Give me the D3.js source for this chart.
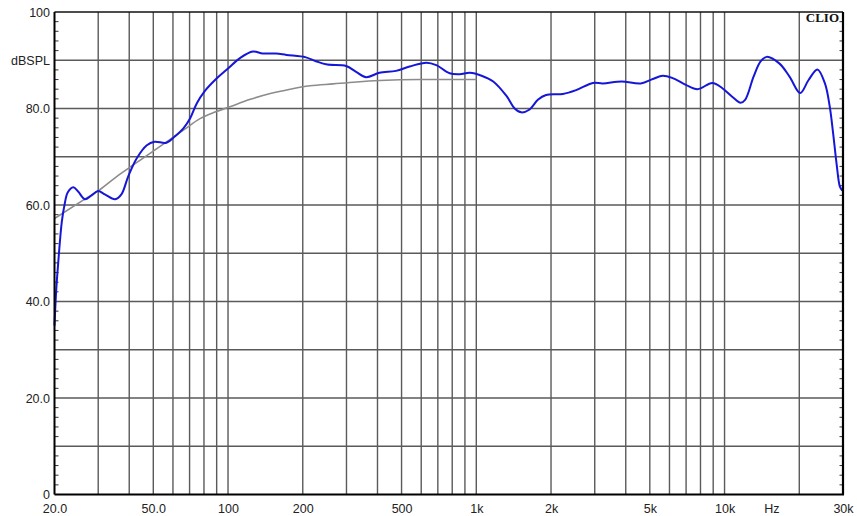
<!DOCTYPE html>
<html><head><meta charset="utf-8">
<script src="https://cdn.jsdelivr.net/npm/d3@7"></script>
<style>body{margin:0;background:#fff}svg{display:block}</style>
</head><body><svg id="c" width="857" height="516"></svg>
<script>
// ---- data ----
const blueFreq=[20.0,20.3,20.7,21.4,22.0,22.6,23.8,24.9,26.5,28.2,30.0,31.9,35.1,37.2,39.6,42.9,47.1,50.6,56.5,61.0,66.1,70.4,74.9,80.3,89.9,100,112,126,138,156,172,206,226,251,299,328,360,407,475,539,630,690,781,858,942,1050,1170,1323,1428,1518,1640,1770,1910,2232,2524,2950,3235,3850,4600,5140,5636,6181,6983,7790,8929,9800,10760,11600,12100,13090,13950,14770,16650,18270,20170,21800,23660,25370,26530,27370,28260,29150,29800];
const blueDb=[35.0,42.0,48.0,56.5,60.3,62.6,63.7,62.8,61.2,62.0,62.9,62.2,61.2,62.2,65.9,69.7,72.4,73.1,72.9,74.2,75.9,78.0,81.1,83.5,86.2,88.3,90.5,91.8,91.4,91.4,91.1,90.6,89.8,89.1,88.8,87.6,86.5,87.4,87.8,88.7,89.5,89.0,87.3,87.1,87.4,86.8,85.6,82.6,80.0,79.2,79.8,81.8,82.8,83.0,83.8,85.3,85.2,85.6,85.2,86.1,86.8,86.3,84.9,84.0,85.3,84.2,82.4,81.2,81.8,86.6,89.7,90.7,89.3,86.6,83.2,85.9,88.1,85.2,80.4,74.9,68.6,63.8,63.0];
const grayFreq=[20,26.1,30.3,35.6,41.5,48.5,56.6,66.1,77.1,88,101,123,148,178,214,265,329,408,594,1002];
const grayDb=[57.2,61.0,63.1,65.9,68.3,70.7,73.1,75.5,77.9,79.2,80.3,81.9,83.1,84.0,84.7,85.1,85.5,85.8,86.0,86.0];
const xTickValues=[20,50,100,200,500,1000,2000,5000,10000,30000];
const xTickText=["20.0","50.0","100","200","500","1k","2k","5k","10k","30k"];
const yTickValues=[0,20,40,60,80,90,100];
const yTickText=["0","20.0","40.0","60.0","80.0","dBSPL","100"];
const xUnit="Hz", xUnitAt=15500;
const brand="CLIO";

// ---- drawing ----
const svg=d3.select("#c");
const L=54.5,R=843,T=12,B=494.5;
const x=d3.scaleLog().domain([20,30000]).range([L,R]);
const y=d3.scaleLinear().domain([0,100]).range([B,T]);
const font="'Liberation Sans', Arial, sans-serif";

svg.append("rect").attr("width",857).attr("height",516).attr("fill","#fff");

// vertical grid
const vg=x.ticks().filter(v=>v>20&&v<30000);
svg.append("g").selectAll("line").data(vg).join("line")
  .attr("x1",d=>x(d)).attr("x2",d=>x(d)).attr("y1",T).attr("y2",B)
  .attr("stroke","#5a5a5a").attr("stroke-width",1.4);
// horizontal grid
const hg=d3.range(10,100,10);
svg.append("g").selectAll("line").data(hg).join("line")
  .attr("x1",L).attr("x2",R).attr("y1",d=>y(d)).attr("y2",d=>y(d))
  .attr("stroke","#5a5a5a").attr("stroke-width",1.4);

// minor ticks (inside) left and right
const minor=d3.range(2,100,2).filter(d=>d%10!==0);
svg.append("g").selectAll("line").data(minor).join("line")
  .attr("x1",L).attr("x2",L+4).attr("y1",d=>y(d)).attr("y2",d=>y(d))
  .attr("stroke","#333").attr("stroke-width",1);
svg.append("g").selectAll("line").data(minor).join("line")
  .attr("x1",R-3.5).attr("x2",R).attr("y1",d=>y(d)).attr("y2",d=>y(d))
  .attr("stroke","#333").attr("stroke-width",1);

// curves
const line=d3.line().x(d=>x(d[0])).y(d=>y(d[1])).curve(d3.curveCatmullRom.alpha(0.5));
const smooth=d3.line().x(d=>x(d[0])).y(d=>y(d[1])).curve(d3.curveMonotoneX);
svg.append("path").datum(d3.zip(grayFreq,grayDb)).attr("d",smooth)
  .attr("fill","none").attr("stroke","#8c8c8c").attr("stroke-width",1.6);
svg.append("path").datum(d3.zip(blueFreq,blueDb)).attr("d",line)
  .attr("fill","none").attr("stroke","#1616d8").attr("stroke-width",2)
  .attr("stroke-linejoin","round");

// border
svg.append("line").attr("x1",L).attr("x2",R).attr("y1",T).attr("y2",T).attr("stroke","#111").attr("stroke-width",1.3);
svg.append("line").attr("x1",L).attr("x2",R+1).attr("y1",B).attr("y2",B).attr("stroke","#000").attr("stroke-width",2);
svg.append("line").attr("x1",L).attr("x2",L).attr("y1",T).attr("y2",B).attr("stroke","#000").attr("stroke-width",2);
svg.append("line").attr("x1",R).attr("x2",R).attr("y1",T).attr("y2",B).attr("stroke","#000").attr("stroke-width",2.2);

// axes labels
const yAxis=d3.axisLeft(y).tickValues(yTickValues).tickSize(0).tickPadding(4.5)
  .tickFormat(d=>yTickText[yTickValues.indexOf(d)]);
const gy=svg.append("g").attr("transform",`translate(${L},0)`).call(yAxis);
gy.select(".domain").remove();
gy.selectAll("text").attr("font-family",font).attr("font-size","12.5px").attr("fill","#222");

const xAxis=d3.axisBottom(x).tickValues(xTickValues).tickSize(0).tickPadding(9.6)
  .tickFormat(d=>xTickText[xTickValues.indexOf(d)]);
const gx=svg.append("g").attr("transform",`translate(0,${B})`).call(xAxis);
gx.select(".domain").remove();
gx.selectAll("text").attr("font-family",font).attr("font-size","12.5px").attr("fill","#222");

svg.append("text").attr("x",x(xUnitAt)).attr("y",513).attr("text-anchor","middle")
  .attr("font-family",font).attr("font-size","12.5px").attr("fill","#222").text(xUnit);

svg.append("text").attr("x",839).attr("y",22).attr("text-anchor","end")
  .attr("font-family","'Liberation Serif', 'Times New Roman', serif").attr("font-weight","bold")
  .attr("font-size","13px").attr("fill","#111").text(brand);
</script></body></html>
